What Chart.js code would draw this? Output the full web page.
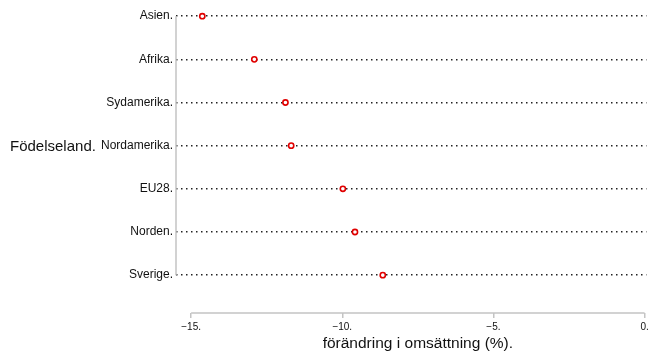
<!DOCTYPE html>
<html>
<head>
<meta charset="utf-8">
<script src="https://cdn.jsdelivr.net/npm/chart.js@4/dist/chart.umd.min.js"></script>
<style>
  html, body { margin: 0; padding: 0; background: #ffffff; }
  #wrap { width: 652px; height: 356px; }
</style>
</head>
<body>
<div id="wrap"><canvas id="c" width="652" height="356"></canvas></div>
<script>
// Födelseland (top to bottom) and change in turnover, %
const categories = ['Asien', 'Afrika', 'Sydamerika', 'Nordamerika', 'EU28', 'Norden', 'Sverige'];
const changes = [-14.63, -12.91, -11.88, -11.69, -9.98, -9.58, -8.66];
const xTickValues = [-15, -10, -5, 0];
const xTickLabels = ['\u221215.', '\u221210.', '\u22125.', '0.'];
const xTitle = 'förändring i omsättning (%).';
const yTitle = 'Födelseland.';

const FONT = '"Liberation Sans", Arial, Helvetica, sans-serif';
const AXIS_GREY = '#c4c4c4';

// Range-frame axis lines plus the two horizontal axis titles
const frame = {
  id: 'frame',
  afterDraw(chart) {
    const { ctx, chartArea, scales } = chart;
    const x = scales.x, y = scales.y;
    ctx.save();
    ctx.strokeStyle = AXIS_GREY;
    ctx.lineWidth = 1.5;
    ctx.beginPath();
    ctx.moveTo(chartArea.left, y.getPixelForValue(0));
    ctx.lineTo(chartArea.left, y.getPixelForValue(categories.length - 1));
    ctx.moveTo(x.getPixelForValue(xTickValues[0]), chartArea.bottom);
    ctx.lineTo(x.getPixelForValue(xTickValues[xTickValues.length - 1]), chartArea.bottom);
    ctx.stroke();

    ctx.fillStyle = '#111';
    ctx.textBaseline = 'alphabetic';
    ctx.font = '15.5px ' + FONT;
    ctx.textAlign = 'center';
    const cx = (x.getPixelForValue(xTickValues[0]) + x.getPixelForValue(xTickValues[xTickValues.length - 1])) / 2;
    ctx.fillText(xTitle, cx, 348);
    ctx.font = '15px ' + FONT;
    ctx.textAlign = 'left';
    ctx.fillText(yTitle, 10, y.getPixelForValue((categories.length - 1) / 2) + 5.5);
    ctx.restore();
  }
};

new Chart(document.getElementById('c'), {
  type: 'scatter',
  data: {
    datasets: [{
      data: changes.map((v, i) => ({ x: v, y: i })),
      showLine: false,
      pointStyle: 'circle',
      pointRadius: 2.6,
      pointBorderWidth: 1.6,
      pointBorderColor: '#e00000',
      pointBackgroundColor: '#ffffff'
    }]
  },
  options: {
    responsive: false,
    animation: false,
    layout: { padding: { top: 4, right: 3, left: 0, bottom: 0 } },
    plugins: { legend: { display: false }, tooltip: { enabled: false } },
    scales: {
      x: {
        type: 'linear',
        min: -15.5,
        max: 0.06,
        afterBuildTicks: s => { s.ticks = xTickValues.map(v => ({ value: v })); },
        afterFit: s => { s.height = 43; },
        border: { display: false },
        grid: { drawOnChartArea: false, drawTicks: true, tickLength: 5, color: AXIS_GREY, lineWidth: 1.5 },
        ticks: {
          autoSkip: false,
          maxRotation: 0,
          padding: 3,
          color: '#111',
          font: { family: FONT, size: 10 },
          callback: (v) => xTickLabels[xTickValues.indexOf(v)]
        }
      },
      y: {
        type: 'linear',
        reverse: true,
        min: -0.1385,
        max: 6.877,
        afterBuildTicks: s => { s.ticks = categories.map((c, i) => ({ value: i })); },
        afterFit: s => { s.width = 176; },
        border: { display: false, dash: [1.5, 3.5] },
        grid: { drawTicks: false, color: '#222222', lineWidth: 1.5 },
        ticks: {
          autoSkip: false,
          padding: 3,
          color: '#111',
          font: { family: FONT, size: 12 },
          callback: (v) => categories[v] + '.'
        }
      }
    }
  },
  plugins: [frame]
});
</script>
</body>
</html>
